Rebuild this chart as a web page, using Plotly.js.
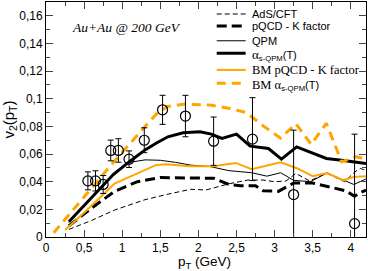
<!DOCTYPE html>
<html><head><meta charset="utf-8">
<script src="https://cdn.plot.ly/plotly-3.0.1.min.js"></script>
<style>body{margin:0;padding:0;background:#fff}#chart{width:368px;height:271px}</style>
</head><body><div id="chart"></div>
<script>
// Experimental data
var dataPt  = [0.55, 0.65, 0.75, 0.85, 0.95, 1.09, 1.29, 1.53, 1.83, 2.20, 2.71, 3.25, 4.05];
var dataV2  = [0.0406, 0.0406, 0.038, 0.0626, 0.0626, 0.0563, 0.070, 0.0920, 0.0875, 0.0693, 0.0708, 0.0307, 0.0097];
var dataErr = [0.0065, 0.0073, 0.0065, 0.0075, 0.0085, 0.006, 0.009, 0.0105, 0.015, 0.0175, 0.030, 0.0466, 0.0647];

// AdS/CFT
var adsX = [0.3, 0.6, 0.9, 1.3, 1.6, 1.9, 2.1, 2.4, 2.65, 2.85, 3.0, 3.15, 3.28, 3.46, 3.68, 3.92, 4.05, 4.13, 4.2];
var adsY = [0.0055, 0.012, 0.0195, 0.027, 0.031, 0.0345, 0.034, 0.0385, 0.0412, 0.0412, 0.040, 0.0405, 0.046, 0.0405, 0.0462, 0.040, 0.047, 0.0496, 0.048];
// pQCD - K factor
var pqcdX = [0.3, 0.6, 0.9, 1.2, 1.5, 1.8, 2.2, 2.4, 2.55, 2.75, 2.85, 3.05, 3.25, 3.5, 3.75, 3.93, 4.05, 4.12, 4.2];
var pqcdY = [0.008, 0.021, 0.033, 0.040, 0.043, 0.043, 0.0425, 0.038, 0.037, 0.037, 0.0335, 0.033, 0.039, 0.039, 0.036, 0.0335, 0.0295, 0.032, 0.034];
// QPM
var qpmX = [0.3, 0.5, 0.7, 0.9, 1.1, 1.3, 1.5, 1.7, 1.9, 2.15, 2.4, 2.7, 2.9, 3.08, 3.25, 3.47, 3.69, 3.87, 4.04, 4.2];
var qpmY = [0.0105, 0.022, 0.034, 0.047, 0.054, 0.0558, 0.0555, 0.054, 0.052, 0.051, 0.048, 0.0465, 0.044, 0.0465, 0.041, 0.040, 0.0464, 0.042, 0.038, 0.042];
// alpha_s-QPM(T)
var asX = [0.3, 0.57, 0.88, 1.09, 1.3, 1.45, 1.6, 1.8, 2.02, 2.17, 2.31, 2.5, 2.68, 2.92, 3.09, 3.29, 3.49, 3.68, 3.88, 4.06, 4.2];
var asY = [0.011, 0.027, 0.045, 0.0543, 0.063, 0.068, 0.0725, 0.0754, 0.0761, 0.0744, 0.0713, 0.0744, 0.0657, 0.064, 0.0563, 0.0652, 0.0609, 0.0568, 0.0556, 0.0543, 0.0532];
// BM pQCD - K factor
var bmpX = [0.25, 0.5, 0.9, 1.14, 1.44, 1.58, 1.89, 2.2, 2.49, 2.7, 3.08, 3.3, 3.5, 3.69, 3.9, 4.04, 4.2];
var bmpY = [0.005, 0.0175, 0.0387, 0.0447, 0.052, 0.0527, 0.0512, 0.0512, 0.0536, 0.049, 0.054, 0.0496, 0.044, 0.0462, 0.041, 0.0435, 0.044];
// BM alpha_s-QPM(T)
var bmaX = [0.1, 0.5, 0.9, 1.3, 1.45, 1.6, 1.8, 2.15, 2.41, 2.63, 2.86, 3.08, 3.28, 3.48, 3.68, 3.88, 4.06, 4.2];
var bmaY = [0.003, 0.029, 0.055, 0.080, 0.089, 0.0945, 0.096, 0.0955, 0.093, 0.090, 0.080, 0.0715, 0.082, 0.067, 0.0822, 0.0543, 0.058, 0.0568];

var SERIF = "'Liberation Serif'";
var names = [
  'AdS/CFT',
  'pQCD - K factor',
  'QPM',
  '<span style="font-family:' + SERIF + ';font-size:13px">α</span><sub>s-QPM</sub>(T)',
  '<span style="font-family:' + SERIF + ';font-size:12.5px">BM pQCD - K factor</span>',
  '<span style="font-family:' + SERIF + ';font-size:12.5px">BM α</span><sub>s-QPM</sub>(T)'
];
var xTitle = 'p<sub>T</sub> (GeV)';
var yTitle = 'v<sub>2</sub>(p<sub>T</sub>)';

var xTickVals = [0, 0.5, 1, 1.5, 2, 2.5, 3, 3.5, 4];
var xTickText = ['0', '0,5', '1', '1,5', '2', '2,5', '3', '3,5', '4'];
var yTickVals = [0, 0.02, 0.04, 0.06, 0.08, 0.1, 0.12, 0.14, 0.16];
var yTickText = ['0', '0,02', '0,04', '0,06', '0,08', '0,1', '0,12', '0,14', '0,16'];

var ORANGE = '#FFA500';
var lineStyles = [
  {color: '#000', width: 1, dash: '5px,3px'},
  {color: '#000', width: 3, dash: '10px,5px'},
  {color: '#000', width: 1},
  {color: '#000', width: 3},
  {color: ORANGE, width: 2},
  {color: ORANGE, width: 3, dash: '9px,6px'}
];
var seriesX = [adsX, pqcdX, qpmX, asX, bmpX, bmaX];
var seriesY = [adsY, pqcdY, qpmY, asY, bmpY, bmaY];

var traces = [];
for (var i = 0; i < seriesX.length; i++) {
  traces.push({x: seriesX[i], y: seriesY[i], mode: 'lines', name: names[i], showlegend: false,
               line: lineStyles[i], hoverinfo: 'skip'});
}
traces.push({x: dataPt, y: dataV2, mode: 'markers', showlegend: false,
   marker: {symbol: 'circle-open', size: 10, color: '#000', line: {width: 1.2, color: '#000'}},
   error_y: {type: 'data', array: dataErr, visible: true, color: '#000', thickness: 1, width: 3}});

// hand-built legend (compact row spacing like the original)
var legRowY = [0.949, 0.898, 0.835, 0.782, 0.711, 0.654];
var legYShift = [0, 0, 0, -2, 0, -2];
var shapes = [], annotations = [];
for (var j = 0; j < names.length; j++) {
  shapes.push({type: 'line', xref: 'paper', yref: 'paper', x0: 0.5335, x1: 0.624,
               y0: legRowY[j], y1: legRowY[j], line: lineStyles[j]});
  annotations.push({xref: 'paper', yref: 'paper', x: 0.6387, y: legRowY[j], xanchor: 'left', yanchor: 'middle',
                    yshift: legYShift[j], text: names[j], showarrow: false,
                    font: {size: 11, family: 'Liberation Sans, Arial, sans-serif', color: '#000'}});
}
annotations.push({xref: 'paper', yref: 'paper', x: 0.075, y: 0.893, xanchor: 'left', yanchor: 'middle',
    text: 'Au+Au @ 200 GeV', showarrow: false,
    font: {family: 'Liberation Serif, Times New Roman, serif', size: 13.5, style: 'italic', color: '#000'}});
// x-axis title as annotation so it sits clear of the tick labels
annotations.push({xref: 'paper', yref: 'paper', x: 0.496, y: -0.147, xanchor: 'center', yanchor: 'bottom',
    text: xTitle, showarrow: false, borderpad: 0, font: {size: 13.5, color: '#000'}});

var layout = {
  width: 368, height: 271,
  margin: {l: 46, r: 2, t: 2, b: 34},
  paper_bgcolor: '#fff', plot_bgcolor: '#fff',
  separators: ', ',
  font: {family: 'Liberation Sans, Arial, sans-serif', size: 12, color: '#000'},
  showlegend: false,
  xaxis: {range: [0, 4.2], tickvals: xTickVals, ticktext: xTickText, ticks: 'inside', ticklen: 7,
          showline: true, linecolor: '#000', linewidth: 1, mirror: 'allticks', showgrid: false, zeroline: false,
          minor: {dtick: 0.25, ticks: 'inside', ticklen: 4, showgrid: false}},
  yaxis: {range: [0, 0.17], tickvals: yTickVals, ticktext: yTickText, ticks: 'inside', ticklen: 7,
          showline: true, linecolor: '#000', linewidth: 1, mirror: 'allticks', showgrid: false, zeroline: false,
          minor: {dtick: 0.01, ticks: 'inside', ticklen: 4, showgrid: false},
          title: {text: yTitle, font: {size: 15}, standoff: 4}},
  shapes: shapes,
  annotations: annotations
};

Plotly.newPlot('chart', traces, layout, {displayModeBar: false, staticPlot: true});
</script></body></html>
